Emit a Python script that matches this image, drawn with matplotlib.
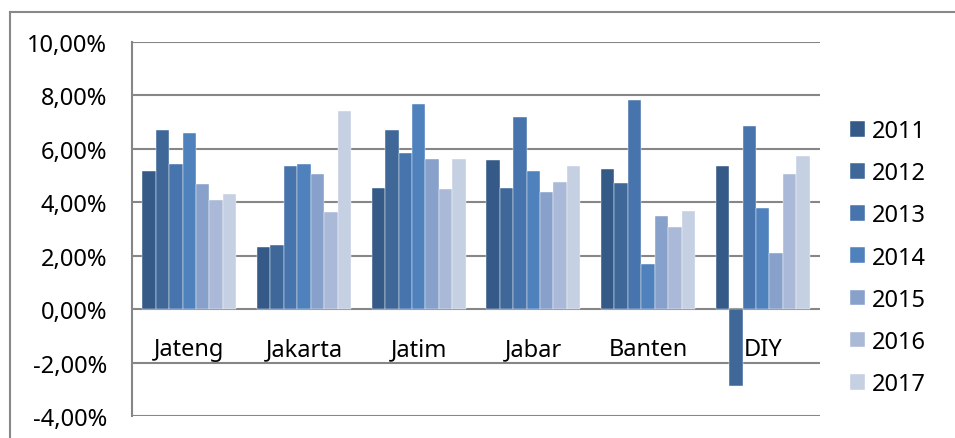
import matplotlib.pyplot as plt
import numpy as np
from matplotlib.lines import Line2D
from matplotlib.ticker import FuncFormatter

plt.rcParams['font.family'] = ['Noto Sans', 'DejaVu Sans']

# Growth per province, one list per year (percent)
provinces = ["Jateng", "Jakarta", "Jatim", "Jabar", "Banten", "DIY"]
years = ["2011", "2012", "2013", "2014", "2015", "2016", "2017"]
g2011 = [5.17, 2.33, 4.55, 5.60, 5.24, 5.37]
g2012 = [6.71, 2.39, 6.72, 4.55, 4.74, -2.87]
g2013 = [5.44, 5.34, 5.84, 7.18, 7.82, 6.87]
g2014 = [6.60, 5.45, 7.67, 5.16, 1.68, 3.80]
g2015 = [4.70, 5.07, 5.61, 4.38, 3.50, 2.11]
g2016 = [4.08, 3.64, 4.50, 4.75, 3.07, 5.05]
g2017 = [4.30, 7.41, 5.61, 5.34, 3.68, 5.72]
series = [g2011, g2012, g2013, g2014, g2015, g2016, g2017]

colors = ["#355A88", "#3F6899", "#4774AC", "#4F81BD", "#87A1CB", "#AAB9D7", "#C5D0E3"]

fig = plt.figure(figsize=(9.55, 4.39), dpi=100)
ax = fig.add_axes([132/955, 22/439, 688/955, 374/439])

x = np.arange(len(provinces))
w = 0.117
for i, (yr, vals) in enumerate(zip(years, series)):
    ax.bar(x + (i - 3) * w, vals, width=w, color=colors[i], label=yr,
           edgecolor="white", linewidth=0.3, zorder=3)

ax.set_xlim(-0.5, len(provinces) - 0.5)
ax.set_ylim(-4, 10)
ax.set_yticks(np.arange(-4, 11, 2))
ax.yaxis.set_major_formatter(FuncFormatter(lambda v, p: f"{v:.2f}%".replace(".", ",")))
ax.grid(axis="y", color="#868686", linewidth=1.5, zorder=0)

# category labels sit just under the zero line
ax.spines["bottom"].set_position(("data", 0))
ax.spines["bottom"].set_visible(False)
ax.spines["top"].set_visible(False)
ax.spines["right"].set_visible(False)
ax.spines["left"].set_color("#868686")
ax.spines["left"].set_linewidth(1.5)
ax.set_xticks(x)
ax.set_xticklabels(provinces)
ax.tick_params(axis="x", length=0, pad=20, labelsize=17)
ax.tick_params(axis="y", length=0, pad=18, labelsize=17)

ax.legend(loc="upper left", bbox_to_anchor=(850/955, 1 - 120/439),
          bbox_transform=fig.transFigure, frameon=False, fontsize=17,
          handlelength=0.64, handleheight=0.64, handletextpad=0.3,
          labelspacing=0.77, borderaxespad=0, borderpad=0)

# outer chart frame
fig.add_artist(Line2D([10/955, 1], [1 - 13/439, 1 - 13/439], color="#888888",
                      linewidth=1.5, transform=fig.transFigure))
fig.add_artist(Line2D([10/955, 10/955], [0, 1 - 13/439], color="#888888",
                      linewidth=1.5, transform=fig.transFigure))

fig.savefig("out.png", dpi=100)
